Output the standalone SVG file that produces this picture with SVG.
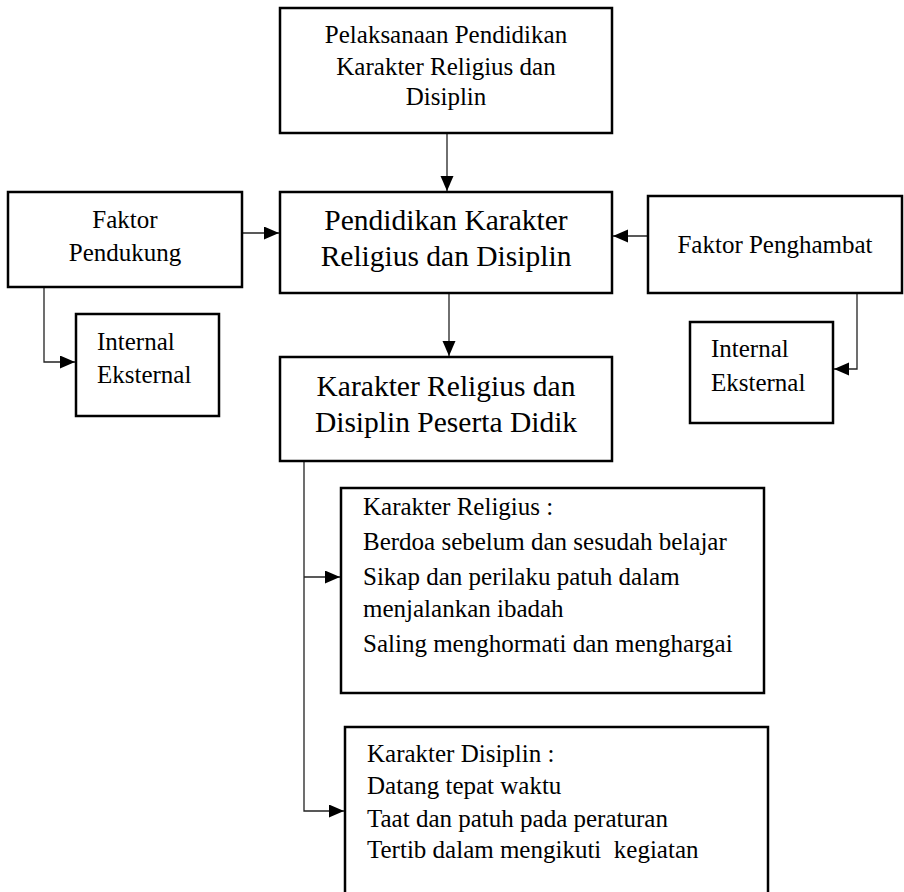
<svg xmlns="http://www.w3.org/2000/svg" width="904" height="892" viewBox="0 0 904 892">
<style>
.box{fill:#fff;stroke:#000;stroke-width:2.5}
.t{font-family:'Liberation Serif','DejaVu Serif',serif;fill:#000}
.s{font-size:25px}
.l{font-size:29.5px}
.c{text-anchor:middle}
.con{fill:none;stroke:#222;stroke-width:1.3}
</style>
<defs>
<marker id="ah" markerUnits="userSpaceOnUse" markerWidth="16" markerHeight="14" refX="15" refY="6.5" orient="auto">
<path d="M0,0 L15,6.5 L0,13 z" fill="#000"/>
</marker>
</defs>
<rect width="904" height="892" fill="#fff"/>
<g id="connectors">
<line class="con" x1="447" y1="133" x2="447" y2="191" marker-end="url(#ah)"/>
<line class="con" x1="242" y1="233" x2="279" y2="233" marker-end="url(#ah)"/>
<line class="con" x1="648" y1="236" x2="613" y2="236" marker-end="url(#ah)"/>
<polyline class="con" points="44,287 44,362 75,362" marker-end="url(#ah)"/>
<polyline class="con" points="857,293 857,369 834,369" marker-end="url(#ah)"/>
<line class="con" x1="449" y1="293" x2="449" y2="356" marker-end="url(#ah)"/>
<polyline class="con" points="304,461 304,811 344,811" marker-end="url(#ah)"/>
<line class="con" x1="304" y1="577" x2="340" y2="577" marker-end="url(#ah)"/>
</g>
<g id="pelaksanaan">
<rect class="box" x="280" y="8" width="332" height="125"/>
<text class="t s c" font-family="Liberation Serif, serif" x="446" y="43">Pelaksanaan Pendidikan</text>
<text class="t s c" x="446" y="75">Karakter Religius dan</text>
<text class="t s c" x="446" y="105">Disiplin</text>
</g>
<g id="pendidikan">
<rect class="box" x="280" y="192" width="332" height="101"/>
<text class="t l c" x="446" y="230">Pendidikan Karakter</text>
<text class="t l c" x="446" y="266">Religius dan Disiplin</text>
</g>
<g id="faktor-pendukung">
<rect class="box" x="8" y="192" width="234" height="95"/>
<text class="t s c" x="125" y="228">Faktor</text>
<text class="t s c" x="125" y="261">Pendukung</text>
</g>
<g id="internal-eksternal-1">
<rect class="box" x="76" y="314" width="143" height="102"/>
<text class="t s" x="97" y="350">Internal</text>
<text class="t s" x="97" y="383">Eksternal</text>
</g>
<g id="faktor-penghambat">
<rect class="box" x="648" y="196" width="254" height="97"/>
<text class="t s c" x="775" y="253">Faktor Penghambat</text>
</g>
<g id="internal-eksternal-2">
<rect class="box" x="690" y="322" width="143" height="101"/>
<text class="t s" x="711" y="357">Internal</text>
<text class="t s" x="711" y="391">Eksternal</text>
</g>
<g id="karakter-peserta">
<rect class="box" x="280" y="357" width="332" height="104"/>
<text class="t l c" x="446" y="396">Karakter Religius dan</text>
<text class="t l c" x="446" y="432">Disiplin Peserta Didik</text>
</g>
<g id="karakter-religius">
<rect class="box" x="341" y="488" width="423" height="205"/>
<text class="t s" x="363" y="515">Karakter Religius :</text>
<text class="t s" x="363" y="550">Berdoa sebelum dan sesudah belajar</text>
<text class="t s" x="363" y="585">Sikap dan perilaku patuh dalam</text>
<text class="t s" x="363" y="617">menjalankan ibadah</text>
<text class="t s" x="363" y="652">Saling menghormati dan menghargai</text>
</g>
<g id="karakter-disiplin">
<rect class="box" x="345" y="727" width="423" height="200"/>
<text class="t s" x="367" y="762">Karakter Disiplin :</text>
<text class="t s" x="367" y="794">Datang tepat waktu</text>
<text class="t s" x="367" y="827">Taat dan patuh pada peraturan</text>
<text class="t s" x="367" y="858" xml:space="preserve">Tertib dalam mengikuti  kegiatan</text>
</g>
</svg>
